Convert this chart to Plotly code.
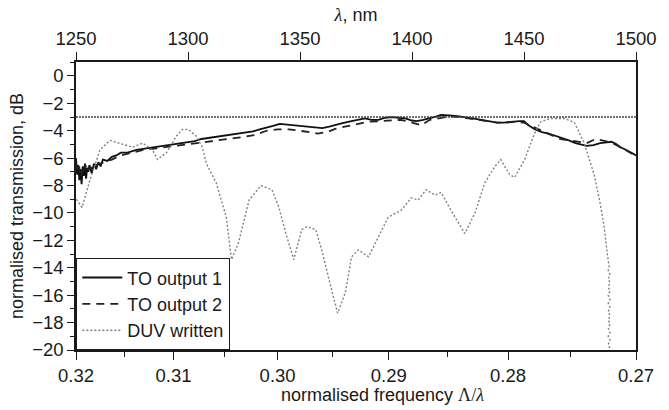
import plotly.graph_objects as go

# ---- wavelength scale (nm) ----
wavelength_ticks = [1250, 1300, 1350, 1400, 1450, 1500]

# ---- normalised-frequency tick labels ----
freq_major = [0.32, 0.31, 0.30, 0.29, 0.28, 0.27]
freq_minor = [0.315, 0.305, 0.295, 0.285, 0.275]

threshold_db = -3.0

# ---- TO output 1 (solid) ----
to1_lam = [1250, 1250.5, 1251, 1251.5, 1252, 1252.5, 1253, 1253.5, 1254, 1254.5,
           1255, 1255.5, 1256, 1257, 1258, 1259, 1260, 1261, 1262, 1264, 1266,
           1268, 1270, 1273, 1277, 1281, 1285, 1289, 1292, 1296, 1299, 1303,
           1306, 1310, 1314, 1318, 1322, 1325, 1329, 1332, 1335, 1338, 1341,
           1344, 1346, 1350, 1354, 1357, 1360, 1363, 1366, 1369, 1373, 1376,
           1379, 1382, 1385, 1388, 1391, 1394, 1397, 1400, 1402, 1405, 1408,
           1411, 1413, 1416, 1418, 1421, 1424, 1427, 1431, 1434, 1438, 1441,
           1444, 1446, 1448, 1450, 1452, 1455, 1458, 1461, 1464, 1467, 1470,
           1473, 1476, 1478, 1481, 1484, 1487, 1489, 1491, 1493, 1495, 1497,
           1499, 1500]
to1_db = [-6.0, -7.2, -6.5, -7.6, -6.8, -7.9, -6.6, -7.3, -6.4, -7.5,
          -6.7, -7.0, -6.5, -7.1, -6.4, -6.8, -6.3, -6.6, -6.1, -6.2, -5.9,
          -5.8, -5.6, -5.6, -5.4, -5.3, -5.2, -5.1, -5.0, -4.9, -4.8, -4.75,
          -4.6, -4.5, -4.4, -4.3, -4.2, -4.15, -4.05, -3.9, -3.8, -3.65, -3.5,
          -3.55, -3.6, -3.65, -3.75, -3.8, -3.8, -3.7, -3.6, -3.45, -3.3, -3.2,
          -3.1, -3.2, -3.2, -3.05, -3.0, -3.05, -3.1, -3.25, -3.3, -3.2, -3.1,
          -2.95, -2.85, -2.85, -2.9, -2.95, -3.0, -3.1, -3.2, -3.3, -3.4, -3.4,
          -3.35, -3.3, -3.3, -3.3, -3.6, -3.9, -4.1, -4.2, -4.35, -4.5, -4.7,
          -4.9, -5.0, -5.1, -5.05, -4.9, -4.85, -4.8, -4.95, -5.2, -5.35, -5.5,
          -5.7, -5.8]

# ---- TO output 2 (dashed) ----
to2_lam = [1250, 1250.7, 1251.4, 1252.1, 1252.8, 1253.5, 1254.2, 1255, 1256,
           1257.5, 1259, 1261, 1263, 1266, 1270, 1275, 1280, 1285, 1290, 1295,
           1300, 1305, 1310, 1315, 1320, 1325, 1330, 1335, 1340, 1345, 1350,
           1354, 1358, 1362, 1366, 1370, 1375, 1380, 1385, 1390, 1395, 1400,
           1404, 1408, 1413, 1417, 1421, 1425, 1430, 1434, 1438, 1442, 1446,
           1450, 1454, 1458, 1462, 1466, 1470, 1474, 1478, 1482, 1486, 1489,
           1492, 1495, 1498, 1500]
to2_db = [-6.3, -7.0, -6.6, -7.4, -6.9, -7.2, -6.5, -7.0, -6.6, -6.8, -6.5,
          -6.4, -6.3, -6.1, -5.8, -5.6, -5.4, -5.3, -5.2, -5.1, -5.0, -4.9,
          -4.8, -4.7, -4.6, -4.45, -4.3, -4.0, -3.9, -3.9, -4.0, -4.1, -4.2,
          -4.1, -3.85, -3.7, -3.5, -3.35, -3.3, -3.25, -3.2, -3.4, -3.6, -3.2,
          -3.05, -2.95, -3.0, -3.1, -3.2, -3.3, -3.4, -3.4, -3.35, -3.4, -3.7,
          -4.0, -4.3, -4.6, -4.7, -4.8, -4.9, -4.6, -4.75, -4.85, -5.1, -5.4,
          -5.65, -5.8]

# ---- DUV written (dotted) ----
duv_lam = [1250.2, 1252.7, 1256.2, 1260.7, 1265.1, 1269.5, 1275.3, 1279.8,
           1284.2, 1286.4, 1290.4, 1294.8, 1297.5, 1300.2, 1303.7, 1306.4,
           1308.2, 1312.6, 1317.1, 1319.4, 1322.5, 1327.3, 1332.6, 1337.5,
           1340.6, 1343.7, 1347.2, 1350.8, 1353.0, 1357.0, 1359.7, 1364.1,
           1366.8, 1370.3, 1373.0, 1376.1, 1380.6, 1385.0, 1389.4, 1395.2,
           1399.6, 1402.8, 1406.3, 1410.3, 1413.0, 1417.4, 1423.6, 1428.1,
           1432.5, 1437.0, 1439.6, 1443.6, 1445.8, 1450.3, 1454.7, 1457.4,
           1461.8, 1468.0, 1472.5, 1476.9, 1481.3, 1484.0, 1485.8, 1487.1,
           1488.0, 1487.6, 1488.4, 1487.6, 1488.4, 1487.6, 1488.4, 1487.6,
           1488.4, 1487.6, 1488.4, 1487.6, 1488.4, 1487.6, 1488.4, 1487.6,
           1488.4, 1487.6, 1488.4, 1487.6, 1488.4, 1487.6, 1488.4, 1488.3]
duv_db = [-9.0, -9.6, -7.6, -5.4, -4.7, -4.9, -5.2, -4.9,
          -5.4, -6.1, -5.6, -4.4, -3.9, -3.9, -4.4, -5.2,
          -6.4, -7.8, -10.3, -13.4, -12.2, -9.05, -8.0, -8.3,
          -9.6, -11.5, -13.4, -11.2, -11.0, -11.2, -12.7, -15.6,
          -17.3, -15.8, -13.2, -12.7, -13.2, -11.75, -10.3, -9.8,
          -8.9, -9.05, -8.3, -8.7, -8.5, -9.8, -11.5, -10.0,
          -7.8, -6.6, -6.1, -7.2, -7.4, -6.1, -4.2, -3.35,
          -3.1, -3.1, -3.4, -4.9, -7.2, -9.3, -11.0, -12.9,
          -13.9, -14.2, -14.5, -14.8, -15.1, -15.4, -15.7, -16.0,
          -16.3, -16.6, -16.9, -17.2, -17.5, -17.8, -18.1, -18.4,
          -18.7, -19.0, -19.3, -19.6, -19.9, -20.2, -20.5, -21.5]


def freq_to_wavelength(f):
    """Place a normalised-frequency tick on the wavelength scale."""
    return (400.0 + 100.0 * (0.32 - f)) / f


INK = "#1a1a1a"
FONT = "Liberation Sans, Arial, Helvetica, sans-serif"
SERIF = "Liberation Serif, Times New Roman, serif"

fig = go.Figure()

fig.add_trace(go.Scatter(
    x=to1_lam, y=to1_db, mode="lines", name="TO output 1",
    line=dict(color="#111111", width=1.8)))
fig.add_trace(go.Scatter(
    x=to2_lam, y=to2_db, mode="lines", name="TO output 2",
    line=dict(color="#222222", width=1.8, dash="8px,6px")))
fig.add_trace(go.Scatter(
    x=duv_lam, y=duv_db, mode="lines", name="DUV written",
    line=dict(color="#808080", width=1.4, dash="2px,2px")))

# -3 dB reference level, drawn against the top wavelength axis
fig.add_trace(go.Scatter(
    x=[wavelength_ticks[0], wavelength_ticks[-1]],
    y=[threshold_db, threshold_db], xaxis="x2", mode="lines",
    line=dict(color="#444444", width=1.5, dash="2px,1px"),
    showlegend=False, hoverinfo="skip"))

axis_common = dict(
    showline=True, linecolor=INK, linewidth=1.5, showgrid=False,
    zeroline=False, ticks="outside", tickcolor=INK, tickwidth=1.3,
    tickfont=dict(size=18.5, color=INK, family=FONT),
)

fig.update_layout(
    width=669, height=410,
    margin=dict(l=76, r=30, t=62, b=60),
    paper_bgcolor="white", plot_bgcolor="white",
    font=dict(family=FONT, size=18, color=INK),
    xaxis=dict(
        **axis_common,
        range=[wavelength_ticks[0], wavelength_ticks[-1]],
        tickmode="array",
        tickvals=[freq_to_wavelength(f) for f in freq_major],
        ticktext=[f"{f:.2f}" for f in freq_major],
        ticklen=8,
        minor=dict(tickmode="array",
                   tickvals=[freq_to_wavelength(f) for f in freq_minor],
                   ticks="outside", ticklen=5, tickcolor=INK, tickwidth=1.2),
    ),
    xaxis2=dict(
        **axis_common,
        overlaying="x", side="top", anchor="y",
        range=[wavelength_ticks[0], wavelength_ticks[-1]],
        tickmode="array", tickvals=wavelength_ticks,
        ticktext=[str(v) for v in wavelength_ticks],
        ticklen=8,
        title=dict(
            text=f"<span style='font-family:{SERIF}'><i>λ</i></span>, nm",
            font=dict(size=18, color=INK), standoff=2),
    ),
    yaxis=dict(
        **axis_common,
        mirror=True,
        range=[-20, 1.02],
        tickmode="array", tickvals=list(range(-20, 1, 2)),
        ticklen=7,
        minor=dict(dtick=1, tick0=0, ticks="outside", ticklen=4,
                   tickcolor=INK, tickwidth=1.2),
        title=dict(text="normalised transmission, dB",
                   font=dict(size=18, color=INK), standoff=4),
    ),
    legend=dict(
        x=0, y=0, xanchor="left", yanchor="bottom",
        bgcolor="white", bordercolor=INK, borderwidth=1.3,
        font=dict(size=18, color=INK, family=FONT),
        tracegroupgap=0, itemwidth=40,
    ),
    showlegend=True,
    annotations=[dict(
        text=("normalised frequency "
              f"<span style='font-family:{SERIF}'>Λ/<i>λ</i></span>"),
        xref="paper", yref="paper", x=0.548, y=0, yshift=-45,
        xanchor="center", yanchor="middle", showarrow=False,
        font=dict(size=18, color=INK, family=FONT),
    )],
)

fig.write_html("out.html")
